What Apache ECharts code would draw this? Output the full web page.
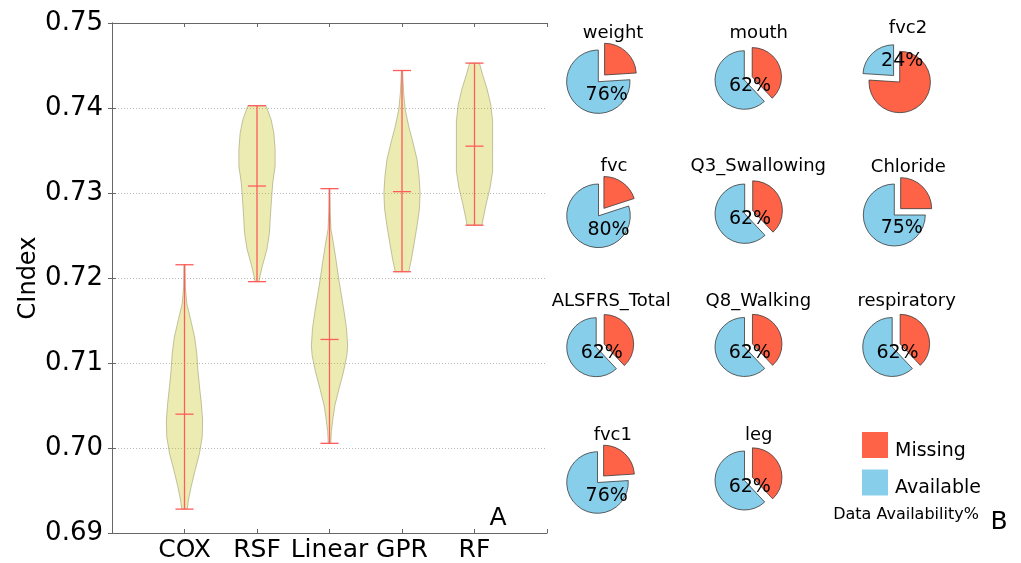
<!DOCTYPE html>
<html><head><meta charset="utf-8">
<script src="https://cdn.jsdelivr.net/npm/echarts@6/dist/echarts.min.js"></script>
<style>html,body{margin:0;padding:0;background:#fff}#c{width:1021px;height:563px}</style>
</head><body><div id="c"></div>
<script>
// ---------------- data ----------------
const categories = ['COX', 'RSF', 'Linear', 'GPR', 'RF'];
const yMin = 0.69, yMax = 0.75, yStep = 0.01;
const violinMins = [0.69281, 0.71957, 0.70055, 0.72074, 0.72621];
const violinMaxs = [0.72156, 0.74027, 0.73051, 0.74441, 0.74528];
const violinMeans = [0.70398, 0.73082, 0.71277, 0.73016, 0.73551];
// [value, relative density width]
const profileCOX = [[0.72156,0.03],[0.71891,0.05],[0.71695,0.13],[0.71500,0.35],[0.71305,0.56],[0.71109,0.68],[0.70914,0.74],[0.70719,0.83],[0.70523,0.93],[0.70328,1.0],[0.70133,0.98],[0.69938,0.83],[0.69742,0.59],[0.69547,0.37],[0.69390,0.22],[0.69281,0.15]];
const profileRSF = [[0.74027,0.50],[0.73863,0.78],[0.73707,0.93],[0.73512,1.0],[0.73316,1.0],[0.73121,0.87],[0.72926,0.80],[0.72730,0.74],[0.72536,0.69],[0.72340,0.55],[0.72144,0.30],[0.72027,0.17],[0.71957,0.11]];
const profileLinear = [[0.73051,0.02],[0.72770,0.04],[0.72574,0.08],[0.72379,0.24],[0.72184,0.38],[0.71988,0.51],[0.71793,0.66],[0.71598,0.81],[0.71402,0.94],[0.71207,1.0],[0.71090,0.96],[0.70895,0.77],[0.70699,0.53],[0.70504,0.30],[0.70348,0.19],[0.70192,0.10],[0.70055,0.07]];
const profileGPR = [[0.74441,0.03],[0.74176,0.09],[0.73980,0.18],[0.73785,0.37],[0.73590,0.61],[0.73395,0.83],[0.73199,0.94],[0.73004,1.0],[0.72809,0.96],[0.72613,0.83],[0.72418,0.68],[0.72223,0.52],[0.72074,0.37]];
const profileRF = [[0.74528,0.27],[0.74391,0.45],[0.74235,0.68],[0.74039,0.90],[0.73843,1.0],[0.73649,1.0],[0.73453,1.0],[0.73257,1.0],[0.73063,0.86],[0.72867,0.64],[0.72711,0.49],[0.72621,0.41]];

const pieNames = ['weight','mouth','fvc2','fvc','Q3_Swallowing','Chloride','ALSFRS_Total','Q8_Walking','respiratory','fvc1','leg'];
const availability = [76, 62, 24, 80, 62, 75, 62, 62, 62, 76, 62];
const legendNames = ['Missing', 'Available'];

// ---------------- layout (not data) ----------------
const FONT = 'DejaVu Sans';
const pieLayout = [ // cx, cy, r, title x, title y, label dx, label dy
  [598.3, 81.7, 31.7, 613, 33, 8.4, 13.3],
  [744.3, 80.0, 29.3, 758.8, 33, 5.7, 6],
  [899.7, 82.0, 30.7, 908, 28, 2.5, -21],
  [598.5, 215.8, 31.8, 614, 166, 10, 14.2],
  [744.7, 213.7, 29.7, 758.3, 166, 5.3, 5.6],
  [894.3, 215.0, 31.0, 908.3, 167, 7.5, 13.3],
  [596.2, 347.2, 29.5, 611.3, 301, 5.6, 5.5],
  [744.5, 347.0, 29.5, 758.3, 301, 5.3, 5.7],
  [892.2, 347.0, 29.5, 906.7, 301, 5.3, 5.7],
  [597.5, 482.5, 30.8, 612.8, 435, 9.2, 13.5],
  [744.5, 480.5, 29.5, 758.7, 435, 5.3, 6.2]
];
const violinProfiles = [profileCOX, profileRSF, profileLinear, profileGPR, profileRF];
const RED = '#ff5c5c';
const MISSING_C = '#ff6347', AVAIL_C = '#87ceeb';

function renderViolin(params, api) {
  const i = params.dataIndex;
  const x = i + 1;
  const prof = violinProfiles[i];
  const half = 0.25, cap = 0.125;
  const right = prof.map(p => api.coord([x + p[1] * half, p[0]]));
  const left = prof.slice().reverse().map(p => api.coord([x - p[1] * half, p[0]]));
  const redStyle = { stroke: RED, lineWidth: 1.3, fill: null };
  const hline = v => {
    const a = api.coord([x - cap, v]), b = api.coord([x + cap, v]);
    return { type: 'line', shape: { x1: a[0], y1: a[1], x2: b[0], y2: b[1] }, style: redStyle };
  };
  const top = api.coord([x, violinMaxs[i]]), bot = api.coord([x, violinMins[i]]);
  return {
    type: 'group',
    children: [
      { type: 'polygon', shape: { points: right.concat(left) },
        style: { fill: 'rgba(191,191,0,0.3)', stroke: 'rgba(140,140,90,0.5)', lineWidth: 1, lineJoin: 'round' } },
      { type: 'line', shape: { x1: top[0], y1: top[1], x2: bot[0], y2: bot[1] }, style: redStyle },
      hline(violinMins[i]), hline(violinMaxs[i]), hline(violinMeans[i])
    ]
  };
}

const axisGray = '#666';
const series = [{
  type: 'custom',
  xAxisIndex: 0, yAxisIndex: 0,
  renderItem: renderViolin,
  data: categories.map((c, i) => [i + 1, violinMeans[i]]),
  silent: true
}];

pieNames.forEach((name, k) => {
  const L = pieLayout[k];
  const avail = availability[k], miss = 100 - avail;
  const explodeMissing = miss < avail;
  const lbl = { show: true, position: 'center', formatter: avail + '%', offset: [L[5], L[6]],
    fontSize: 19, fontFamily: FONT, color: '#000' };
  series.push({
    type: 'pie', name: name,
    center: [L[0], L[1]], radius: [0, L[2]],
    startAngle: 90, clockwise: true,
    selectedMode: 'multiple', selectedOffset: 0.29 * L[2],
    emphasis: { disabled: true }, silent: true,
    label: { show: false }, labelLine: { show: false },
    itemStyle: { borderColor: '#3a3a3a', borderWidth: 0.8 },
    data: [
      { name: legendNames[0], value: miss, selected: explodeMissing,
        itemStyle: { color: MISSING_C }, label: explodeMissing ? { show: false } : lbl },
      { name: legendNames[1], value: avail, selected: !explodeMissing,
        itemStyle: { color: AVAIL_C }, label: explodeMissing ? lbl : { show: false } }
    ]
  });
});

const graphics = pieNames.map((name, k) => ({
  type: 'text', x: pieLayout[k][3], y: pieLayout[k][4],
  style: { text: name, font: '18px "' + FONT + '"', fill: '#000', align: 'center', verticalAlign: 'middle' }
}));
graphics.push({ type: 'text', x: 498, y: 518, style: { text: 'A', font: '25px "' + FONT + '"', fill: '#000', align: 'center', verticalAlign: 'middle' } });
graphics.push({ type: 'text', x: 999, y: 522, style: { text: 'B', font: '25px "' + FONT + '"', fill: '#000', align: 'center', verticalAlign: 'middle' } });
graphics.push({ type: 'text', x: 906, y: 515, style: { text: 'Data Availability%', font: '16px "' + FONT + '"', fill: '#000', align: 'center', verticalAlign: 'middle' } });

const chart = echarts.init(document.getElementById('c'));
chart.setOption({
  animation: false,
  color: [MISSING_C, AVAIL_C],
  textStyle: { fontFamily: FONT },
  grid: { left: 112, right: 474, top: 23, bottom: 28, containLabel: false },
  xAxis: [{
    type: 'value', min: 0, max: 6, interval: 1, position: 'bottom',
    axisLine: { show: true, lineStyle: { color: axisGray } },
    axisTick: { show: true, inside: true, length: 4, lineStyle: { color: axisGray } },
    splitLine: { show: false },
    axisLabel: { fontSize: 25, color: '#000', margin: 5, fontFamily: FONT,
      formatter: v => (v >= 1 && v <= categories.length) ? categories[v - 1] : '' }
  }, {
    type: 'value', min: 0, max: 6, interval: 1, position: 'top',
    axisLine: { show: true, lineStyle: { color: axisGray } },
    axisTick: { show: true, inside: true, length: 4, lineStyle: { color: axisGray } },
    splitLine: { show: false }, axisLabel: { show: false }
  }],
  yAxis: [{
    type: 'value', min: yMin, max: yMax, interval: yStep,
    name: 'CIndex', nameLocation: 'middle', nameGap: 71, nameRotate: 90,
    nameTextStyle: { fontSize: 24, color: '#000', fontFamily: FONT },
    axisLine: { show: true, lineStyle: { color: axisGray } },
    axisTick: { show: true, inside: true, length: 4, lineStyle: { color: axisGray } },
    splitLine: { show: true, lineStyle: { color: '#b8b8b8', type: [1, 2], width: 1 } },
    axisLabel: { fontSize: 26, color: '#000', margin: 9, fontFamily: FONT, formatter: v => v.toFixed(2) }
  }, {
    type: 'value', min: yMin, max: yMax, interval: yStep, position: 'right',
    axisLine: { show: true, lineStyle: { color: axisGray } },
    axisTick: { show: true, inside: true, length: 4, lineStyle: { color: axisGray } },
    splitLine: { show: false }, axisLabel: { show: false }
  }],
  legend: {
    data: legendNames, orient: 'vertical', left: 862, top: 432, padding: 0,
    itemWidth: 26, itemHeight: 26, itemGap: 9, icon: 'rect', selectedMode: false,
    itemStyle: { borderWidth: 0 },
    formatter: name => '{t|' + name + '}',
    textStyle: { fontSize: 19, color: '#000', fontFamily: FONT,
      rich: { t: { fontSize: 19, color: '#000', fontFamily: FONT, padding: [12, 0, 0, 2] } } }
  },
  graphic: graphics,
  series: series
});
</script>
</body></html>
